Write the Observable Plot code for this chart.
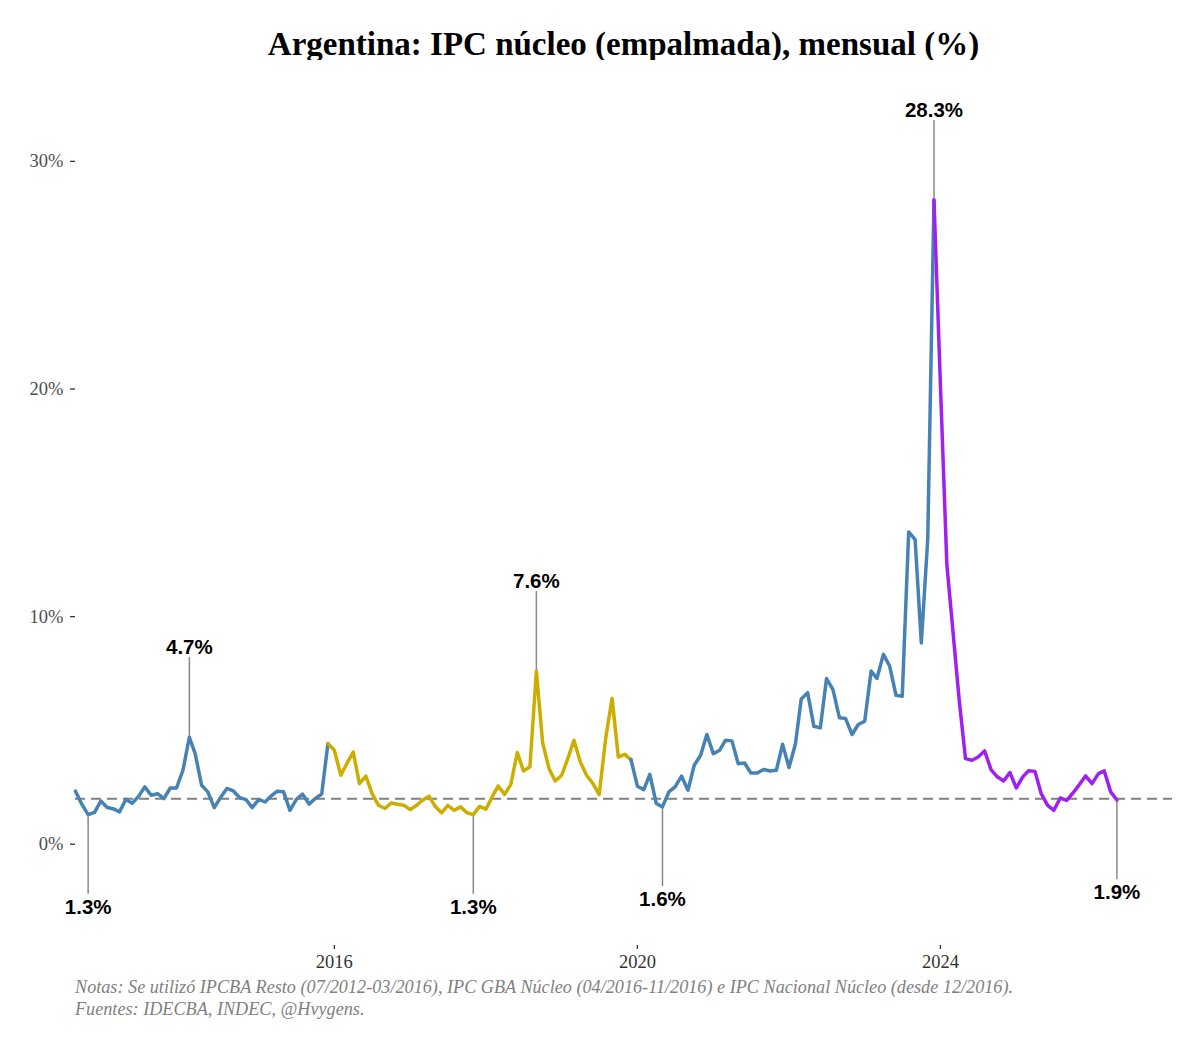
<!DOCTYPE html>
<html><head><meta charset="utf-8">
<script src="https://cdn.jsdelivr.net/npm/d3@7"></script>
<script src="https://cdn.jsdelivr.net/npm/@observablehq/plot@0.6"></script>
<style>
body{margin:0;background:#fff;}
#wrap{position:relative;width:1200px;height:1050px;background:#fff;overflow:hidden;}
#title{position:absolute;left:75px;width:1097px;top:24px;text-align:center;font-family:"Liberation Serif";font-weight:bold;font-size:33px;line-height:40px;color:#000;}
#chart{position:absolute;left:0;top:60px;}
#caption{position:absolute;left:75px;top:977px;font-family:"Liberation Serif";font-style:italic;font-size:18.2px;line-height:21.5px;color:#7f7f7f;white-space:nowrap;}
</style></head><body>
<div id="wrap">
<div id="title">Argentina: IPC núcleo (empalmada), mensual (%)</div>
<div id="chart"></div>
<div id="caption">Notas: Se utilizó IPCBA Resto (07/2012-03/2016), IPC GBA Núcleo (04/2016-11/2016) e IPC Nacional Núcleo (desde 12/2016).<br>Fuentes: IDECBA, INDEC, @Hvygens.</div>
</div>
<script>
// Monthly core CPI (%), by period. Each array starts at the given month.
const cfkStart = [2012, 8];
const cfk = [
  2.33, 1.75, 1.30, 1.40, 1.90,
  1.61, 1.55, 1.42, 1.97, 1.80, 2.10, 2.52, 2.15, 2.22, 2.00, 2.47, 2.47,
  3.25, 4.70, 3.98, 2.59, 2.30, 1.61, 2.05, 2.45, 2.34, 2.05, 1.96, 1.61,
  1.96, 1.86, 2.11, 2.33, 2.30, 1.49, 1.96, 2.20, 1.76, 2.01, 2.20, 4.42
];
const macriStart = [2016, 1];
const macri = [
  4.13, 3.03, 3.54, 4.05, 2.66, 2.99, 2.22, 1.71, 1.57, 1.81, 1.76, 1.71,
  1.52, 1.71, 1.93, 2.11, 1.67, 1.38, 1.71, 1.49, 1.64, 1.38, 1.30, 1.66,
  1.54, 2.10, 2.56, 2.19, 2.63, 4.03, 3.22, 3.40, 7.60, 4.47, 3.32, 2.78,
  3.03, 3.80, 4.57, 3.61, 3.03, 2.66, 2.18, 4.64, 6.40, 3.83, 3.95, 3.72
];
const fernandezStart = [2020, 1];
const fernandez = [
  2.55, 2.40, 3.07, 1.79, 1.64, 2.30, 2.52, 2.99, 2.37, 3.47, 3.91, 4.82,
  3.98, 4.13, 4.57, 4.54, 3.54, 3.57, 3.13, 3.13, 3.28, 3.22, 3.25, 4.39,
  3.37, 4.40, 6.38, 6.66, 5.18, 5.11, 7.28, 6.79, 5.56, 5.52, 4.82, 5.26,
  5.40, 7.61, 7.28, 8.34, 7.83, 6.54, 6.50, 13.72, 13.38, 8.84, 13.43, 28.30
];
const mileiStart = [2024, 1];
const milei = [
  20.2, 12.3, 9.4, 6.3, 3.76, 3.69, 3.83, 4.10, 3.28, 2.96, 2.78, 3.15,
  2.47, 2.96, 3.23, 3.20, 2.22, 1.71, 1.49, 2.03, 1.93, 2.25, 2.62, 3.00,
  2.66, 3.10, 3.22, 2.30, 1.94
];
const periodColors = ["#4682B4", "#CDAD00", "#4682B4", "#A020F0"];

const yTicks = [0, 10, 20, 30];
const xTickYears = [2016, 2020, 2024];
const refLine = 2;

// Annotated months and side (+1 above, -1 below)
const labelMonths = ["2012-10", "2014-02", "2017-11", "2018-09", "2020-05", "2023-12", "2026-05"];
const labelSides = [-1, 1, -1, 1, -1, 1, -1];

// build data
function expand(start, vals) {
  return vals.map((v, i) => {
    const d = new Date(Date.UTC(start[0], start[1] - 1 + i, 1));
    return {date: d, key: d.toISOString().slice(0, 7), value: v};
  });
}
const periods = [
  expand(cfkStart, cfk),
  expand(macriStart, macri),
  expand(fernandezStart, fernandez),
  expand(mileiStart, milei)
];
const segments = periods.map((p, i) => i === 0 ? p : [periods[i - 1][periods[i - 1].length - 1], ...p]);
const all = periods.flat();
const labels = labelMonths.map((k, i) => {
  const d = all.find(r => r.key === k);
  return {date: d.date, value: d.value, side: labelSides[i]};
});

const plot = Plot.plot({
  width: 1200,
  height: 920,
  marginLeft: 75,
  marginRight: 28,
  marginTop: 8.7,
  marginBottom: 35,
  style: {background: "white", fontFamily: "Liberation Serif", fontSize: "18.5px", overflow: "visible"},
  x: {type: "utc", domain: [new Date(Date.UTC(2012, 7, 1)), new Date(Date.UTC(2027, 0, 24))]},
  y: {domain: [-4.45, 34.05]},
  marks: [
    Plot.axisY({ticks: yTicks, tickFormat: d => d + "%", tickSize: 5, tickPadding: 7, stroke: "#333", strokeWidth: 1.3, fill: "#4d4d4d", label: null, fontSize: 18.5}),
    Plot.axisX({ticks: xTickYears.map(y => new Date(Date.UTC(y, 0, 1))), tickFormat: d => String(d.getUTCFullYear()), tickSize: 4, tickPadding: 5, stroke: "#333", strokeWidth: 1.3, fill: "#333", label: null, fontSize: 18.5}),
    Plot.ruleY([refLine], {stroke: "#7f7f7f", strokeWidth: 2, strokeDasharray: "10,6"}),
    Plot.ruleX(labels, {x: "date", y1: "value", y2: d => d.value + d.side * 3.5, stroke: "#888", strokeWidth: 1.5}),
    ...segments.map((s, i) => Plot.line(s, {x: "date", y: "value", stroke: periodColors[i], strokeWidth: 3.5, strokeLinejoin: "round"})),
    Plot.text(labels, {x: "date", y: d => d.value + (d.side > 0 ? 3.95 : -4.08), text: d => d.value.toFixed(1) + "%", fontFamily: "Liberation Sans", fontWeight: "bold", fontSize: 20.5, fill: "#000"})
  ]
});
document.getElementById("chart").appendChild(plot);
</script>
</body></html>
